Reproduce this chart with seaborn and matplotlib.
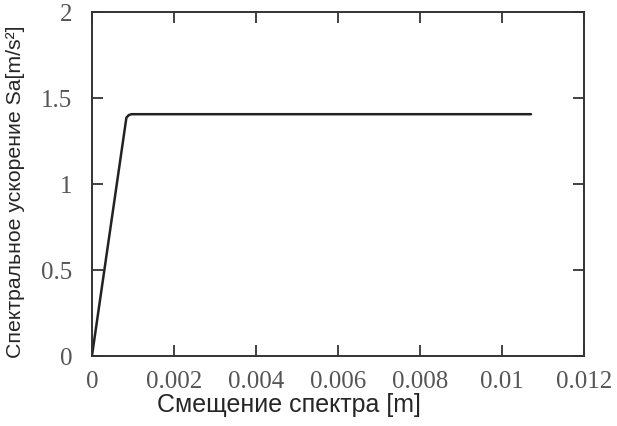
import matplotlib
matplotlib.use("Agg")
import matplotlib.pyplot as plt
import seaborn as sns
import pandas as pd

# displacement [m] and spectral acceleration [m/s^2]
displacement = [0.0, 0.00084, 0.00090, 0.00096, 0.0107]
acceleration = [0.0, 1.385, 1.400, 1.405, 1.405]

x_ticks = [0, 0.002, 0.004, 0.006, 0.008, 0.01, 0.012]
x_tick_labels = ['0', '0.002', '0.004', '0.006', '0.008', '0.01', '0.012']
y_ticks = [0, 0.5, 1, 1.5, 2]
y_tick_labels = ['0', '0.5', '1', '1.5', '2']

df = pd.DataFrame({'disp': displacement, 'acc': acceleration})

sns.set_style("ticks")

fig = plt.figure(figsize=(6.17, 4.27), dpi=100)
ax = fig.add_axes([0.149, 0.164, 0.798, 0.806])

sns.lineplot(data=df, x='disp', y='acc', color='#222222', linewidth=1.8, ax=ax)

ax.set_xlim(0, 0.012)
ax.set_ylim(0, 2)
ax.set_xticks(x_ticks)
ax.set_xticklabels(x_tick_labels)
ax.set_yticks(y_ticks)
ax.set_yticklabels(y_tick_labels)

for side in ['top', 'right', 'bottom', 'left']:
    ax.spines[side].set_visible(True)
    ax.spines[side].set_linewidth(1.4)
    ax.spines[side].set_color('#333333')

ax.tick_params(direction='in', length=8, width=1.3, color='#333333',
               top=True, right=True, labelsize=18, labelcolor='#555555')
ax.tick_params(axis='x', pad=10)
ax.tick_params(axis='y', pad=14)
for lab in ax.get_xticklabels() + ax.get_yticklabels():
    lab.set_family('Liberation Serif')

ax.set_xlabel('Смещение спектра [m]', family='Liberation Sans', fontsize=18)
ax.xaxis.set_label_coords(0.40, -0.105)
ax.set_ylabel('Спектральное ускорение Sa[m/s²]', family='Liberation Sans', fontsize=15.3)
ax.yaxis.set_label_coords(-0.136, 0.48)

fig.savefig('out.png', dpi=100, facecolor='white')
